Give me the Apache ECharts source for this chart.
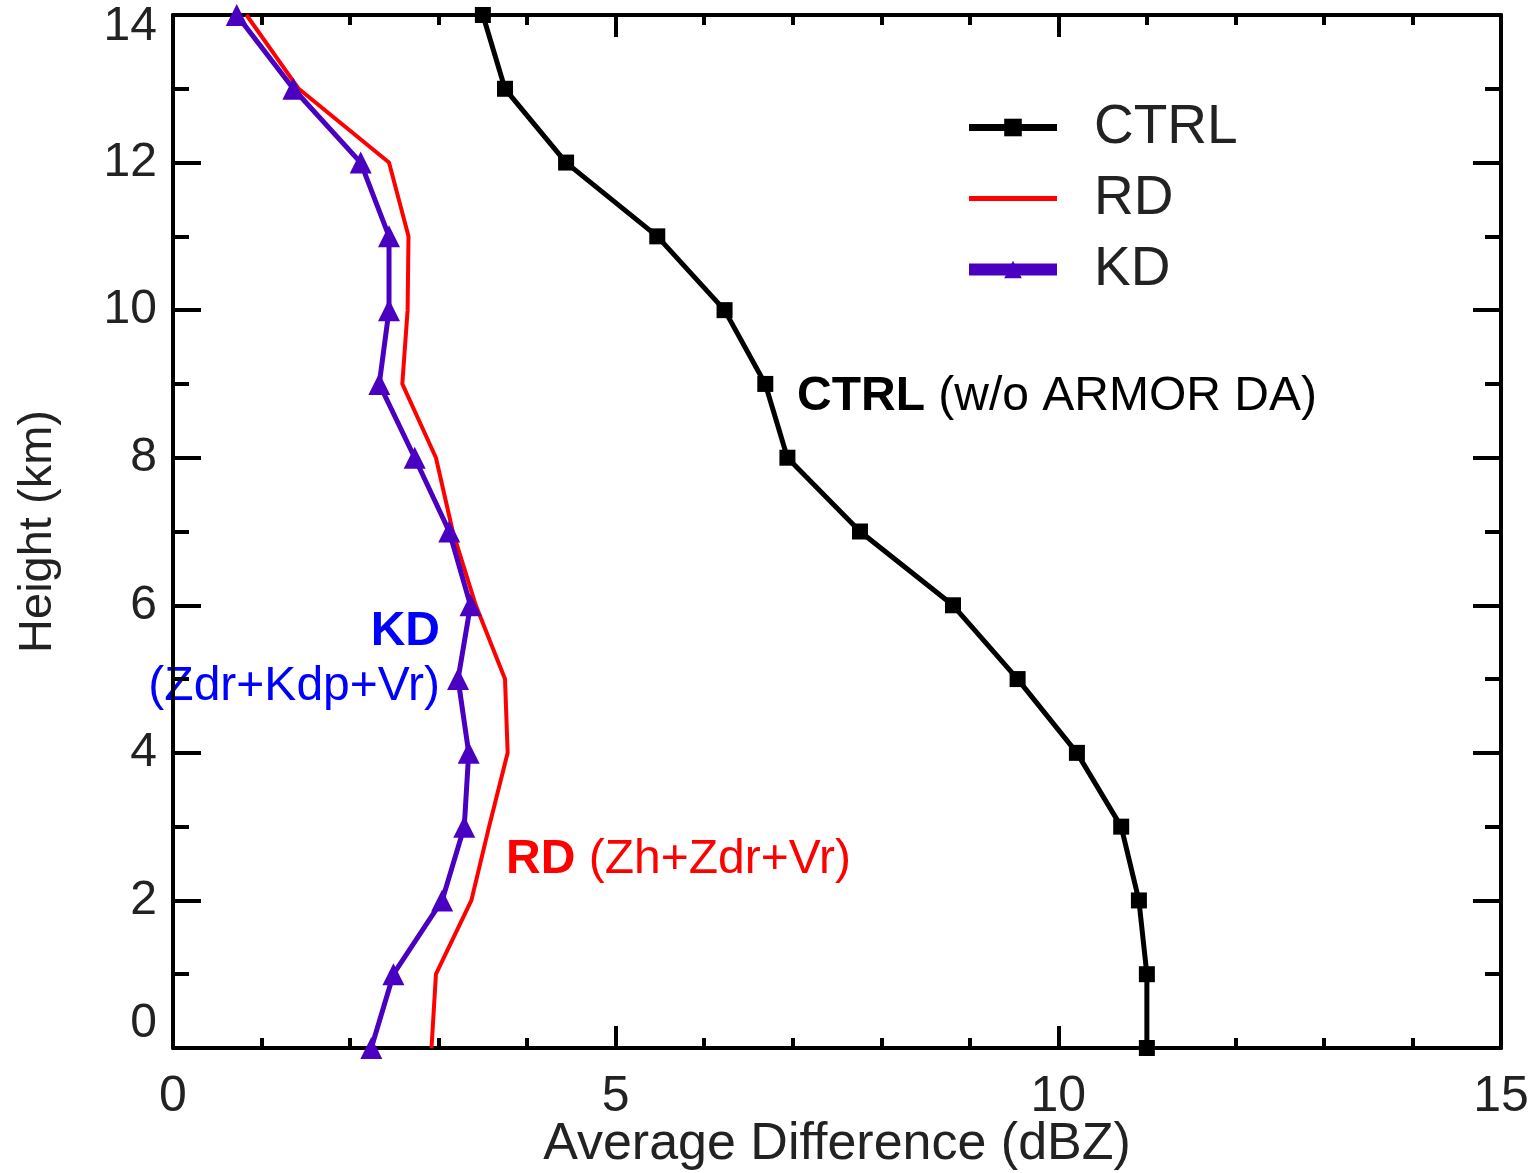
<!DOCTYPE html>
<html>
<head>
<meta charset="utf-8">
<script src="https://cdn.jsdelivr.net/npm/echarts@6/dist/echarts.min.js"></script>
<style>
  html, body { margin: 0; padding: 0; background: #fff; }
  #main { width: 1538px; height: 1173px; }
</style>
</head>
<body>
<div id="main"></div>
<script>
// heights (km) and average difference (dBZ) for each experiment
var heights = [0, 1, 2, 3, 4, 5, 6, 7, 8, 9, 10, 11, 12, 13, 14];
var ctrlVals = [11.0, 11.0, 10.91, 10.71, 10.21, 9.54, 8.81, 7.76, 6.94, 6.69, 6.23, 5.47, 4.44, 3.75, 3.50];
var rdVals = [2.92, 2.97, 3.37, 3.57, 3.78, 3.75, 3.42, 3.16, 2.97, 2.59, 2.65, 2.66, 2.44, 1.42, 0.83];
var kdVals = [2.24, 2.49, 3.04, 3.29, 3.34, 3.22, 3.36, 3.12, 2.73, 2.33, 2.44, 2.44, 2.12, 1.36, 0.72];
var seriesNames = ['CTRL', 'RD', 'KD'];

var black = '#000000', red = '#ff0000', purple = '#4a00c0';
var font = 'Liberation Sans, Arial, sans-serif';

function pairs(vals) {
    var out = [];
    for (var i = 0; i < heights.length; i++) out.push([vals[i], heights[i]]);
    return out;
}

var chart = echarts.init(document.getElementById('main'));

var axisLine = { show: true, onZero: false, lineStyle: { color: '#000', width: 4 } };
var xTick = { inside: true, length: 22, lineStyle: { width: 4, color: '#000' } };
var xMinor = { show: true, splitNumber: 5, length: 10, lineStyle: { width: 4, color: '#000' } };
var yTick = { inside: true, length: 28, lineStyle: { width: 4, color: '#000' } };
var yMinor = { show: true, splitNumber: 2, length: 16, lineStyle: { width: 4, color: '#000' } };

option = {
    backgroundColor: '#fff',
    animation: false,
    grid: { left: 173, right: 37, top: 15, bottom: 125, outerBoundsMode: 'none', containLabel: false },
    legend: {
        orient: 'vertical',
        left: 963, top: 100, padding: 0,
        itemWidth: 88, itemHeight: 22, itemGap: 16,
        textStyle: { fontFamily: font, fontSize: 55, lineHeight: 50, color: '#222', padding: [0, 0, 0, 32] },
        data: [
            { name: 'CTRL', lineStyle: { width: 7 } },
            { name: 'RD', lineStyle: { width: 5 }, itemStyle: { opacity: 0 } },
            { name: 'KD', lineStyle: { width: 12 } }
        ]
    },
    xAxis: [{
        type: 'value', min: 0, max: 15, interval: 5,
        axisLine: axisLine, axisTick: xTick, minorTick: xMinor,
        axisLabel: { fontFamily: font, fontSize: 50, color: '#222', margin: 24 },
        splitLine: { show: false }
    }, {
        type: 'value', min: 0, max: 15, interval: 5, position: 'top',
        axisLine: axisLine, axisTick: xTick, minorTick: xMinor,
        axisLabel: { show: false },
        splitLine: { show: false }
    }],
    yAxis: [{
        type: 'value', min: 0, max: 14, interval: 2,
        name: 'Height (km)', nameLocation: 'middle', nameGap: 111, nameMoveOverlap: false,
        nameTextStyle: { fontFamily: font, fontSize: 47, color: '#222' },
        axisLine: axisLine, axisTick: yTick, minorTick: yMinor,
        axisLabel: {
            fontFamily: font, fontSize: 48, color: '#222', margin: 16, verticalAlignMinLabel: 'bottom',
            formatter: function (v) { return v === 14 ? '{t|14}' : String(v); },
            rich: { t: { fontFamily: font, fontSize: 48, color: '#222', padding: [24, 0, 0, 0] } }
        },
        splitLine: { show: false }
    }, {
        type: 'value', min: 0, max: 14, interval: 2, position: 'right',
        axisLine: axisLine, axisTick: yTick, minorTick: yMinor,
        axisLabel: { show: false },
        splitLine: { show: false }
    }],
    series: [{
        name: seriesNames[0], type: 'line', data: pairs(ctrlVals),
        symbol: 'rect', symbolSize: 16,
        lineStyle: { color: black, width: 5 }, itemStyle: { color: black }, z: 3
    }, {
        name: seriesNames[1], type: 'line', data: pairs(rdVals),
        symbol: 'none',
        lineStyle: { color: red, width: 4 }, itemStyle: { color: red }, z: 2
    }, {
        name: seriesNames[2], type: 'line', data: pairs(kdVals),
        symbol: 'triangle', symbolSize: 22,
        lineStyle: { color: purple, width: 5 }, itemStyle: { color: purple }, z: 4
    }],
    graphic: [{
        // x axis title, placed by hand so it sits just under the tick labels
        type: 'text', x: 837, y: 1119,
        style: {
            text: 'Average Difference (dBZ)', fontFamily: font, fontSize: 52, fill: '#222',
            align: 'center', verticalAlign: 'top'
        }
    }, {
        type: 'text', left: 797, top: 373,
        style: {
            text: '{b|CTRL} (w/o ARMOR DA)',
            fontFamily: font, fontSize: 48, fill: '#000',
            rich: { b: { fontFamily: font, fontSize: 48, fontWeight: 'bold', fill: '#000' } }
        }
    }, {
        type: 'text', right: 1538 - 440, top: 608,
        style: { text: 'KD', fontFamily: font, fontSize: 48, fontWeight: 'bold', fill: '#0000ff', align: 'right' }
    }, {
        type: 'text', right: 1538 - 440, top: 663,
        style: { text: '(Zdr+Kdp+Vr)', fontFamily: font, fontSize: 48, fill: '#0000ff', align: 'right' }
    }, {
        type: 'text', left: 506, top: 836,
        style: {
            text: '{b|RD} (Zh+Zdr+Vr)',
            fontFamily: font, fontSize: 48, fill: '#ff0000',
            rich: { b: { fontFamily: font, fontSize: 48, fontWeight: 'bold', fill: '#ff0000' } }
        }
    }]
};

chart.setOption(option);
</script>
</body>
</html>
